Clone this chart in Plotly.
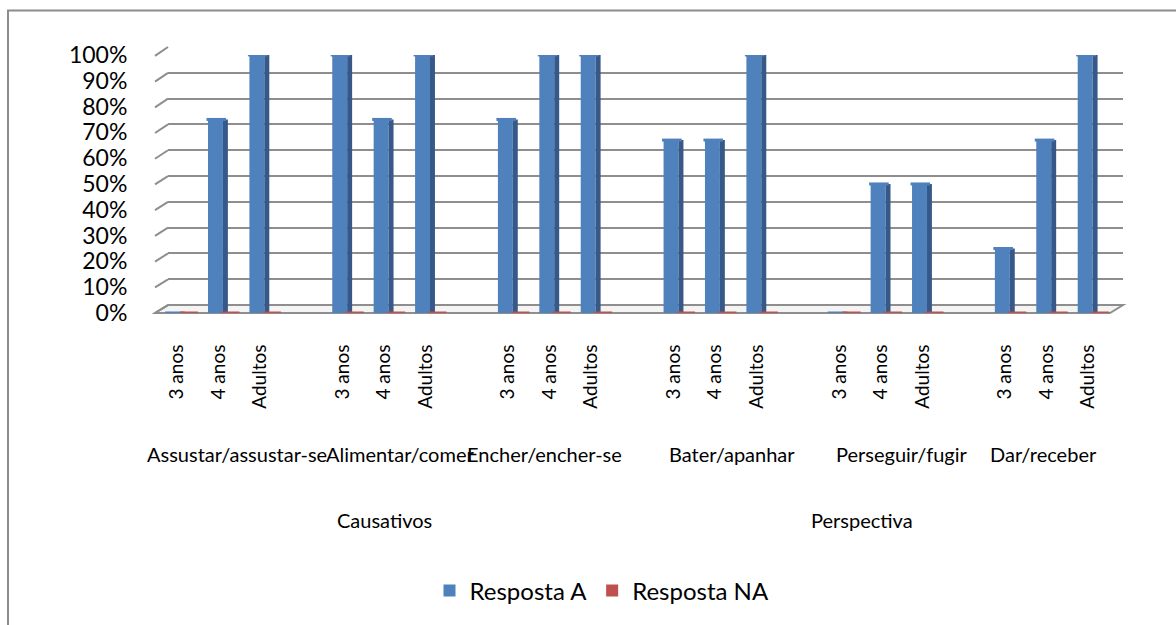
import plotly.graph_objects as go

# ---------------- data ----------------
ages = ["3 anos", "4 anos", "Adultos"]
verbs = ["Assustar/assustar-se", "Alimentar/comer", "Encher/encher-se",
         "Bater/apanhar", "Perseguir/fugir", "Dar/receber"]
supergroups = ["Causativos", "Perspectiva"]
verbs_per_group = [3, 3]
resposta_a = [0.00, 0.75, 1.00,
              1.00, 0.75, 1.00,
              0.75, 1.00, 1.00,
              0.67, 0.67, 1.00,
              0.00, 0.50, 0.50,
              0.25, 0.67, 1.00]
resposta_na = [0.00, 0.00, 0.00,
               0.00, 0.00, 0.00,
               0.00, 0.00, 0.00,
               0.00, 0.00, 0.00,
               0.00, 0.00, 0.00,
               0.00, 0.00, 0.00]
y_ticks = [0, 0.1, 0.2, 0.3, 0.4, 0.5, 0.6, 0.7, 0.8, 0.9, 1.0]

# ---------------- layout geometry ----------------
W, H = 1176, 625
L, R, T, B = 155, 53, 47, 309
PW, PH = W - L - R, H - T - B          # 968 x 269
DX, DY = 13, 8                         # 3D depth offset (px)

def px_x(px):
    return (px - L) / PW

def px_y(py):
    return (H - B - py) / PH

FONT = "Lato"
BLUE = "#4F81BD"
BLUE_SIDE = "#36598A"
RED = "#C0504D"
GRID = "#8E8E8E"

# slot positions: 3 ages per verb, one empty slot between verbs
xs = []
for g in range(len(verbs)):
    for a in range(len(ages)):
        xs.append(g * (len(ages) + 1) + a)
tick_text = [ages[i % len(ages)] for i in range(len(xs))]
xr = [-0.53, xs[-1] + 0.53]

fig = go.Figure()

# invisible trace to create the back-wall subplot (x, y)
fig.add_trace(go.Scatter(x=[xs[0]], y=[0], xaxis="x", yaxis="y", mode="markers",
                         marker=dict(opacity=0), showlegend=False, hoverinfo="skip"))

# front subplot (x2, y2): bars
fig.add_trace(go.Bar(x=xs, y=resposta_a, name="Resposta A", xaxis="x2", yaxis="y2",
                     marker=dict(color=BLUE, line=dict(width=0)),
                     offset=-0.25, width=0.36))
fig.add_trace(go.Bar(x=xs, y=resposta_a, name="side", xaxis="x2", yaxis="y2",
                     marker=dict(color=BLUE_SIDE, line=dict(width=0)),
                     offset=0.11, width=0.12, showlegend=False, hoverinfo="skip"))
fig.add_trace(go.Bar(x=xs, y=resposta_na, name="Resposta NA", xaxis="x2", yaxis="y2",
                     marker=dict(color=RED, line=dict(width=0)),
                     offset=0.12, width=0.32))
# slivers on the floor / top edges (so zero values stay visible like the 3D original)
fig.add_trace(go.Scatter(x=[x - 0.05 for x in xs], y=resposta_a, xaxis="x2", yaxis="y2",
                         mode="markers", showlegend=False, hoverinfo="skip",
                         marker=dict(symbol="line-ew", size=14,
                                     line=dict(color=BLUE, width=3))))
fig.add_trace(go.Scatter(x=[x + 0.29 for x in xs], y=resposta_na, xaxis="x2", yaxis="y2",
                         mode="markers", showlegend=False, hoverinfo="skip",
                         marker=dict(symbol="line-ew", size=13,
                                     line=dict(color=RED, width=3))))

shapes = []
# outer chart border (extends past the right/bottom edge like the original)
shapes.append(dict(type="rect", xref="paper", yref="paper",
                   x0=px_x(8), y0=px_y(640), x1=px_x(1190), y1=px_y(10),
                   line=dict(color="#8C8C8C", width=2), fillcolor="rgba(0,0,0,0)",
                   layer="below"))
# floor slab
shapes.append(dict(type="path", xref="paper", yref="paper",
                   path=(f"M{px_x(L)},{px_y(316)} L{px_x(L + PW - DX)},{px_y(316)} "
                         f"L{px_x(L + PW)},{px_y(316 - DY)} L{px_x(L + DX)},{px_y(316 - DY)} Z"),
                   line=dict(color=GRID, width=2), fillcolor="#F4F4F4", layer="below"))
# left slanted connectors from front axis to back wall gridlines
for v in y_ticks:
    fy = 316 - v * 260
    by = 308 - v * 261
    shapes.append(dict(type="line", xref="paper", yref="paper",
                       x0=px_x(L), y0=px_y(fy), x1=px_x(L + DX), y1=px_y(by),
                       line=dict(color=GRID, width=2), layer="below"))

annotations = []
# verb labels
verb_nudges = [19, 16, -5, 17, 21, -3]
for g, name in enumerate(verbs):
    center = g * (len(ages) + 1) + 1
    annotations.append(dict(x=center, y=px_y(459), xref="x2", yref="paper",
                            text=name, showarrow=False, xshift=verb_nudges[g],
                            font=dict(family=FONT, size=20, color="#000000"),
                            xanchor="center", yanchor="middle"))
# super-group labels
sg_nudges = [0, -19]
start = 0
for i, name in enumerate(supergroups):
    n = verbs_per_group[i]
    first = start * (len(ages) + 1)
    last = (start + n - 1) * (len(ages) + 1) + len(ages) - 1
    annotations.append(dict(x=(first + last) / 2, y=px_y(525), xref="x2", yref="paper",
                            text=name, showarrow=False, xshift=sg_nudges[i],
                            font=dict(family=FONT, size=20, color="#000000"),
                            xanchor="center", yanchor="middle"))
    start += n

fig.update_layout(
    width=W, height=H,
    margin=dict(l=L, r=R, t=T, b=B),
    paper_bgcolor="white", plot_bgcolor="rgba(0,0,0,0)",
    barmode="overlay",
    showlegend=True,
    legend=dict(orientation="h", x=px_x(602), y=px_y(597), xanchor="center",
                yanchor="middle", font=dict(family=FONT, size=24, color="#000000"),
                bgcolor="rgba(0,0,0,0)", traceorder="normal"),
    font=dict(family=FONT, color="#000000"),
    # back wall axes
    xaxis=dict(domain=[DX / PW, 1], range=xr, anchor="y", visible=False,
               showgrid=False, zeroline=False, fixedrange=True),
    yaxis=dict(domain=[DY / PH, 1], range=[0, 1], anchor="x", tickvals=y_ticks,
               showgrid=True, gridcolor=GRID, gridwidth=2, showticklabels=False,
               zeroline=False, showline=False, ticks="", fixedrange=True),
    # front axes
    xaxis2=dict(domain=[0, (PW - DX) / PW], range=xr, anchor="y2",
                tickmode="array", tickvals=xs, ticktext=tick_text, tickangle=-90,
                ticks="outside", ticklen=23, tickcolor="rgba(0,0,0,0)",
                tickfont=dict(family=FONT, size=19, color="#000000"),
                showgrid=False, zeroline=False, showline=False, fixedrange=True),
    yaxis2=dict(domain=[0, (PH - DY) / PH], range=[0, 1], anchor="x2",
                tickmode="array", tickvals=y_ticks, tickformat=".0%",
                ticks="outside", ticklen=22, tickcolor="rgba(0,0,0,0)",
                tickfont=dict(family=FONT, size=23, color="#000000"),
                showgrid=False, zeroline=False, showline=False, fixedrange=True),
    shapes=shapes,
    annotations=annotations,
)

fig.write_html("out.html")
